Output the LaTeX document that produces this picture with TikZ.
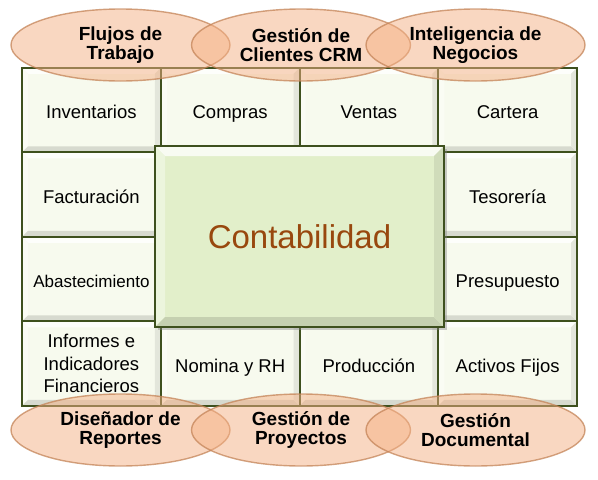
\documentclass[tikz,border=0pt]{standalone}
\usepackage{fontspec}
\setmainfont{Liberation Sans}
\usetikzlibrary{positioning, shapes.geometric, shadows}
\definecolor{gridLine}{RGB}{62,80,30}
\definecolor{cellFace}{RGB}{247,250,238}
\definecolor{boxFace}{RGB}{226,239,202}
\definecolor{ovalFill}{RGB}{244,176,132}
\definecolor{ovalLine}{RGB}{196,132,88}
\definecolor{contaBrown}{RGB}{152,72,14}

\tikzset{
    bevel/.style 2 args={path picture={
        \path (path picture bounding box.north west) coordinate (pNW)
              (path picture bounding box.north east) coordinate (pNE)
              (path picture bounding box.south east) coordinate (pSE)
              (path picture bounding box.south west) coordinate (pSW);
        \fill[white!75!#2] (pNW) -- (pNE) -- ([shift={(-#1,#1)}]pNE) -- ([shift={(#1,#1)}]pNW) -- cycle;
        \fill[white!35!#2] (pNW) -- (pSW) -- ([shift={(#1,-#1)}]pSW) -- ([shift={(#1,#1)}]pNW) -- cycle;
        \fill[#2!87!black] (pSW) -- (pSE) -- ([shift={(-#1,-#1)}]pSE) -- ([shift={(#1,-#1)}]pSW) -- cycle;
        \fill[#2!92!black] (pNE) -- (pSE) -- ([shift={(-#1,-#1)}]pSE) -- ([shift={(-#1,#1)}]pNE) -- cycle;
    }}
}

\begin{document}
\begin{tikzpicture}[
    x=1pt, y=-1pt,
    node distance=0pt,
    cell/.style={draw=gridLine, line width=2pt, fill=cellFace, bevel={6}{cellFace}, minimum width=138.75pt, minimum height=84.5pt, inner sep=0pt, outer sep=0pt, align=center, text height=17pt, text depth=0pt, font=\fontsize{18.5}{22.5}\selectfont},
    mainbox/.style={draw=gridLine, line width=2pt, fill=boxFace, bevel={10}{boxFace}, drop shadow={shadow xshift=3pt, shadow yshift=-3pt, opacity=0.4}, minimum width=289pt, minimum height=181pt, inner sep=0pt, font=\fontsize{33}{36}\selectfont, text=contaBrown},
    oval/.style={ellipse, draw=ovalLine, line width=1.4pt, fill=ovalFill, fill opacity=0.5, draw opacity=0.75, text opacity=1, minimum width=219pt, minimum height=72pt, inner sep=0pt, align=center, font=\fontsize{19}{19.5}\selectfont\bfseries}
]
    \useasboundingbox (0,0) rectangle (598,480);

    % module grid
    \node[cell] (inv) at (91.4,110.2) {Inventarios};
    \node[cell, right=of inv] (com) {Compras};
    \node[cell, right=of com] (ven) {Ventas};
    \node[cell, right=of ven] (car) {Cartera};
    \node[cell, below=of inv] (fac) {Facturación};
    \node[cell, below=of car] (tes) {Tesorería};
    \node[cell, below=of fac, font=\fontsize{17}{20}\selectfont] (aba) {Abastecimiento};
    \node[cell, below=of tes] (pre) {Presupuesto};
    \node[cell, below=of aba, text height={}, text depth={}] (inf) {Informes e\\Indicadores\\Financieros};
    \node[cell, right=of inf] (nom) {Nomina y RH};
    \node[cell, right=of nom] (pro) {Producción};
    \node[cell, right=of pro] (act) {Activos Fijos};

    % core module
    \node[mainbox] (conta) at (299.5,236.5) {Contabilidad};

    % cross modules
    \node[oval] (flu) at (120.5,45) {Flujos de\\Trabajo};
    \node[oval] (crm) at (301,45) {Gestión de\\Clientes CRM};
    \node[oval] (neg) at (475.5,45) {Inteligencia de\\Negocios};
    \node[oval] (dis) at (120.5,430) {Diseñador de\\Reportes};
    \node[oval] (proy) at (301,430) {Gestión de\\Proyectos};
    \node[oval] (doc) at (475.5,430) {Gestión\\Documental};
\end{tikzpicture}
\end{document}
